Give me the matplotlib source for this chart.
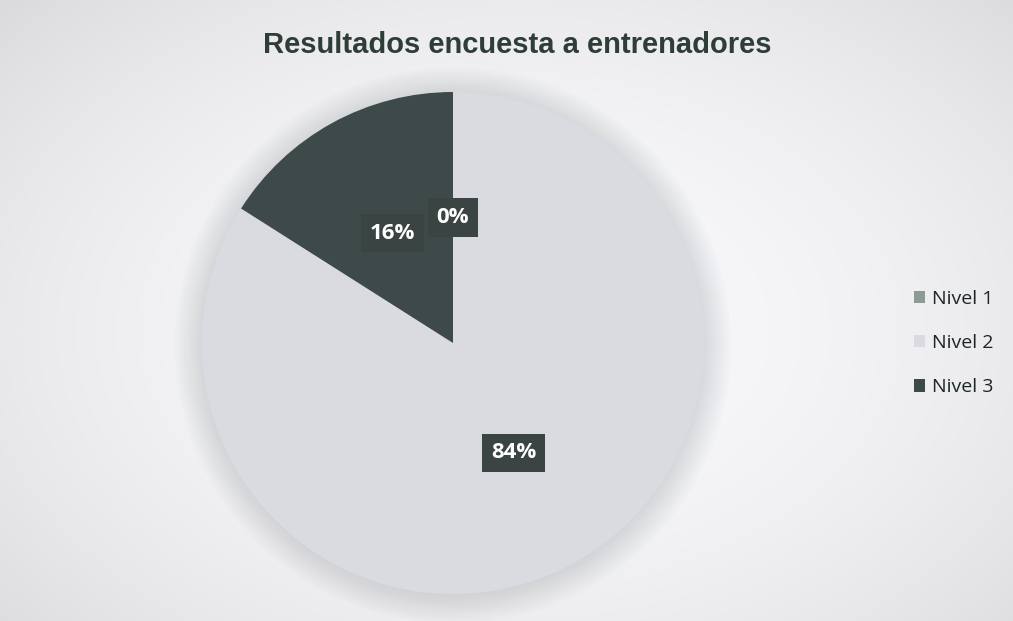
import matplotlib.pyplot as plt
import numpy as np
from matplotlib.patches import Circle

categories = ["Nivel 1", "Nivel 2", "Nivel 3"]
values = [0, 84, 16]
colors = ["#8c9c94", "#d9dbe0", "#3e4a49"]
title = "Resultados encuesta a entrenadores"

W, H = 1013, 621
fig = plt.figure(figsize=(W / 100, H / 100), dpi=100)

# soft background vignette
bg = fig.add_axes([0, 0, 1, 1], zorder=-10)
yy, xx = np.mgrid[0:H, 0:W]
r = np.sqrt(((xx - 520) / 620) ** 2 + ((yy - 330) / 420) ** 2)
shade = np.clip(0.985 - 0.09 * r ** 2, 0.86, 1)
bg.imshow(np.dstack([shade * 0.99, shade * 0.99, shade]), aspect="auto")
bg.axis("off")

cx, cy, rad = 453, 343, 251
ax = fig.add_axes([(cx - rad) / W, (H - cy - rad) / H, 2 * rad / W, 2 * rad / H])

# faint shadow around the pie
for i in range(10):
    ax.add_patch(Circle((0.0, -0.01), 1.0 + 0.012 * i, color="#9aa0a4",
                        alpha=0.035, zorder=0, lw=0, clip_on=False))

wedges, texts, autotexts = ax.pie(
    values,
    colors=colors,
    startangle=90,
    counterclock=False,
    autopct=lambda p: f"{p:.0f}%",
    pctdistance=0.5,
    radius=1.0,
    wedgeprops=dict(linewidth=0),
)
for wdg in wedges:
    wdg.set_zorder(2)
for t in autotexts:
    t.set_color("white")
    t.set_fontsize(16)
    t.set_fontweight("bold")
    t.set_family("Open Sans")
    t.set_zorder(5)
    t.set_bbox(dict(boxstyle="square,pad=0.4", facecolor="#3a4543", edgecolor="none"))

ax.set_xlim(-1, 1)
ax.set_ylim(-1, 1)
ax.set_aspect("equal")
ax.axis("off")

fig.text(517 / W, 1 - 45 / H, title, ha="center", va="center",
         fontsize=21, fontweight="bold", family="Liberation Sans", color="#2e3d38")

leg = fig.legend(wedges, categories, loc="center left",
                 bbox_to_anchor=(896 / W, 1 - 343 / H), frameon=False,
                 prop={"family": "Open Sans", "size": 14}, labelspacing=1.35,
                 handlelength=0.6, handleheight=0.6, handletextpad=0.35)
for txt in leg.get_texts():
    txt.set_color("#1e2624")

fig.savefig("out.png", dpi=100)
